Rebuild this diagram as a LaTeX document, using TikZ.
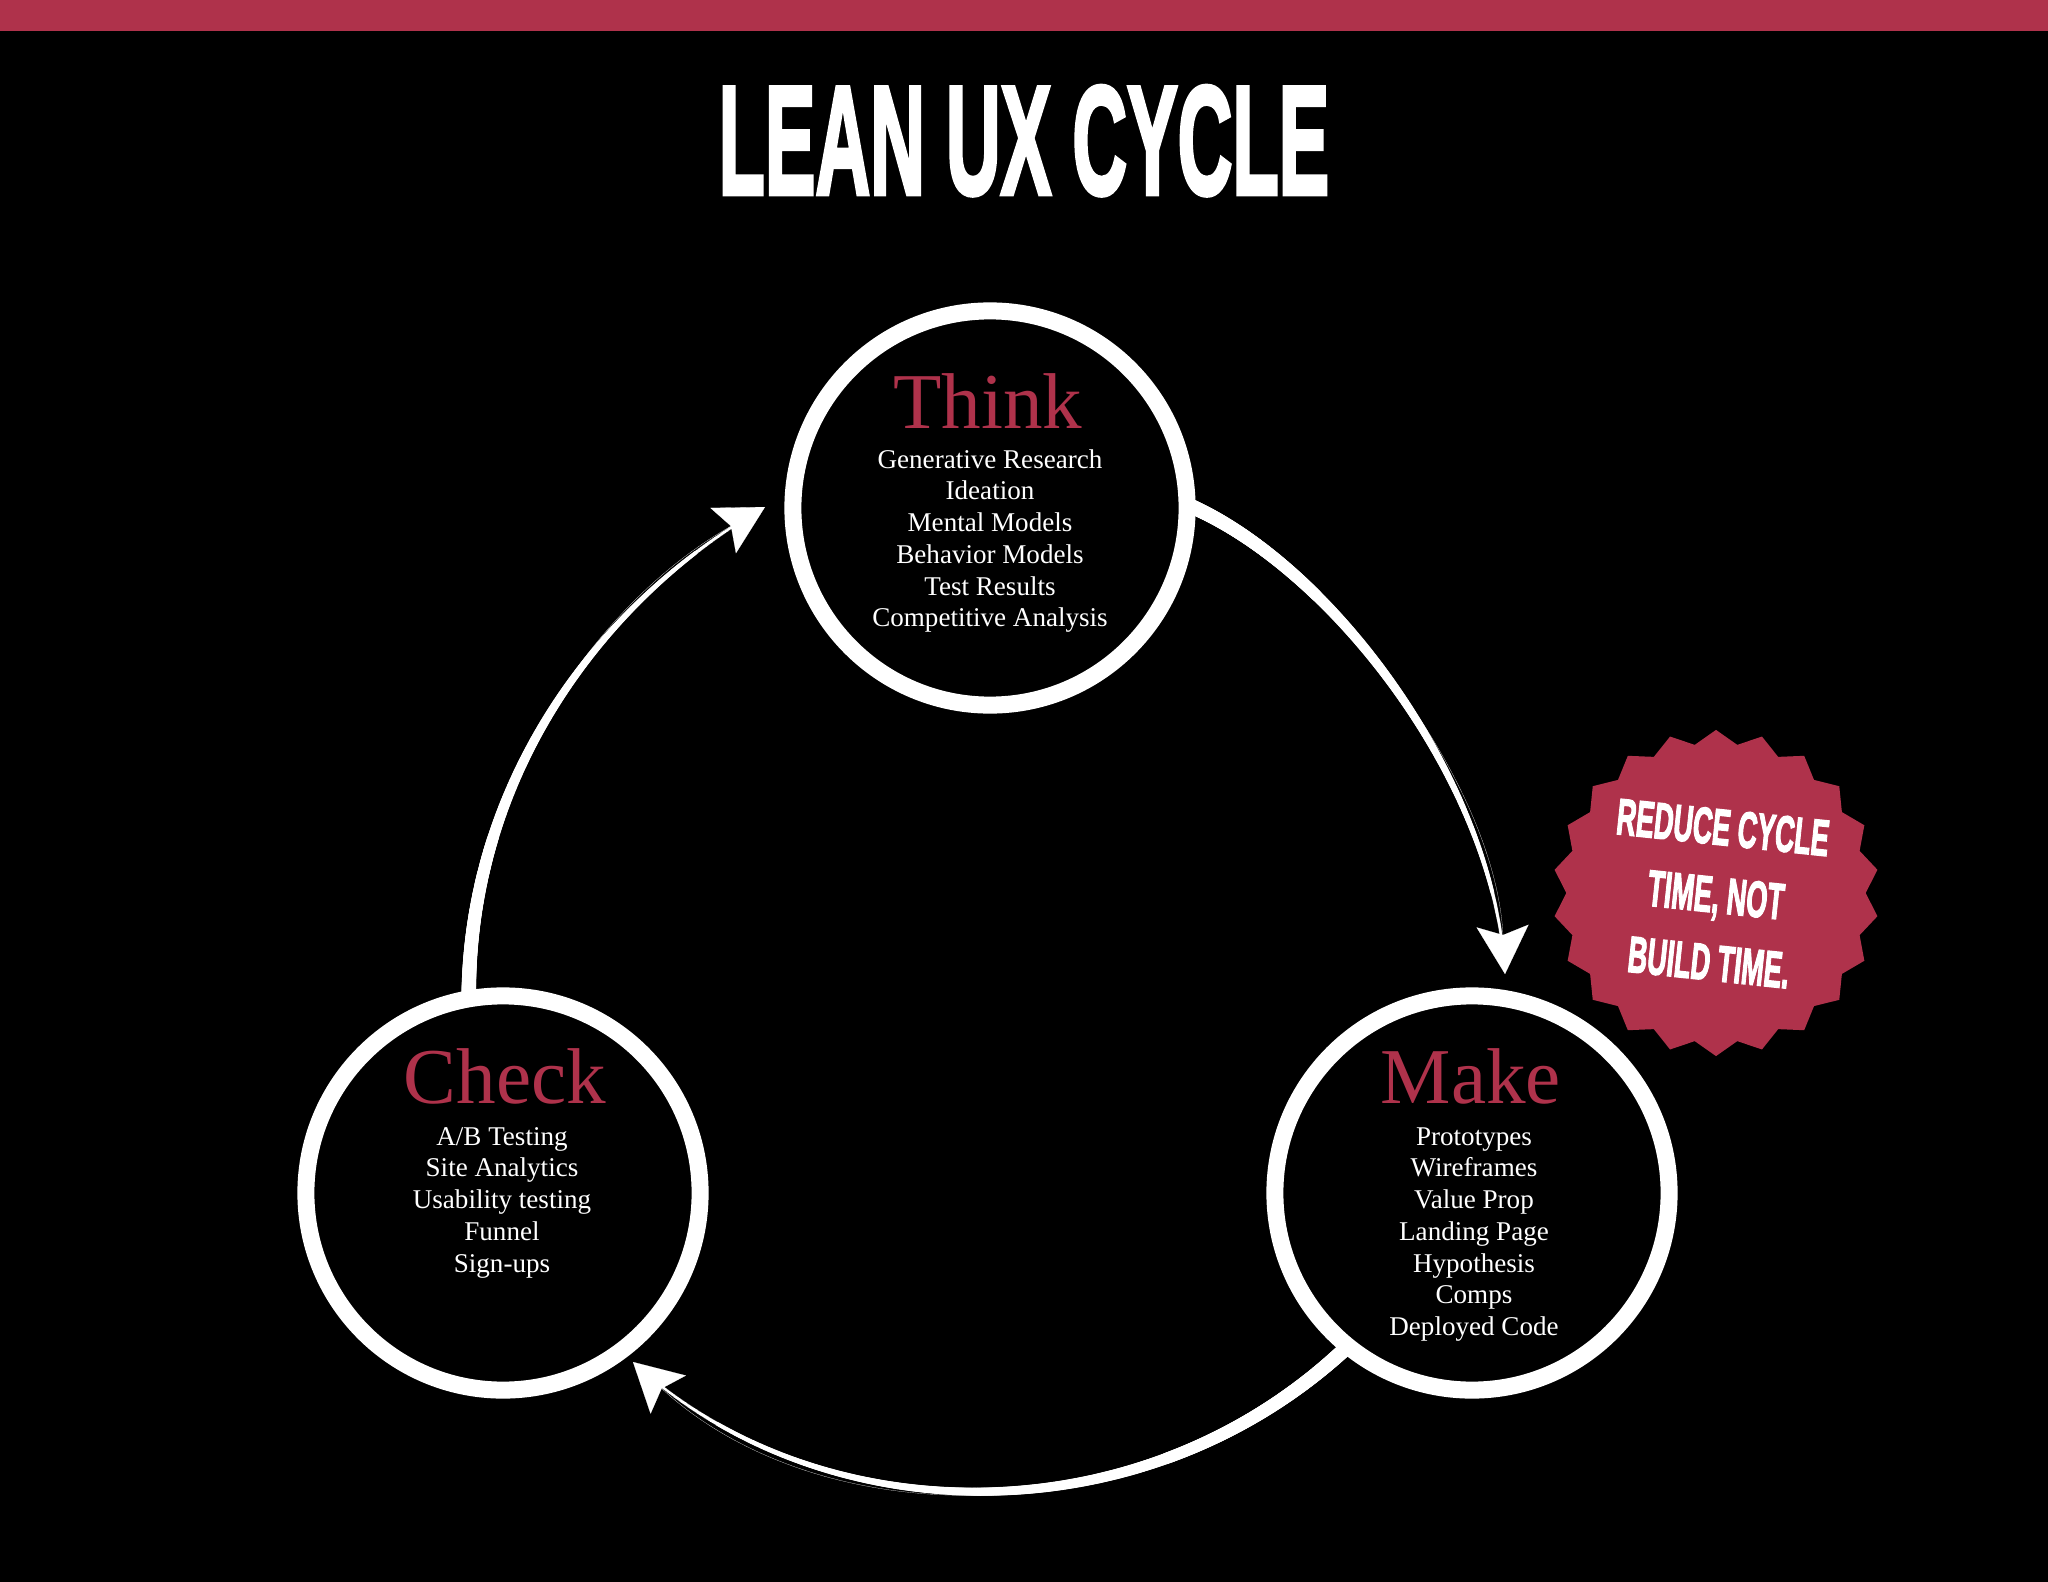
\documentclass[tikz,border=0pt]{standalone}
\usepackage{fontspec}
\setmainfont{Liberation Serif}
\newfontfamily\headfont{Liberation Sans}[BoldFeatures={FakeBold=3}]
\usetikzlibrary{shapes.geometric,arrows.meta,decorations.markings}
\definecolor{leanred}{RGB}{175,50,75}
\newcommand{\squash}[2]{\scalebox{#1}[1]{#2}}

\begin{document}
\begin{tikzpicture}[
  x=0.01cm, y=-0.01cm,
  stage/.style={circle, draw=white, fill=black, line width=1.7mm, minimum size=39.4mm, inner sep=0pt, outer sep=0pt},
  stagetitle/.style={anchor=base, text=leanred, inner sep=0pt, font=\fontsize{22.5}{27}\selectfont},
  item/.style={anchor=base, text=white, inner sep=0pt, font=\fontsize{7.7}{9}\selectfont},
  seal/.style={star, star points=22, star point ratio=1.09, fill=leanred, minimum size=32.6mm, inner sep=0pt},
  flow/.style={white, line width=0.05pt, -{Stealth[length=4.8mm, width=5.2mm, inset=0.9mm]},
    postaction={decorate},
    decoration={markings, mark=between positions 0 and -10pt step 0.3pt with {
      \pgfmathsetmacro\dotr{2.1-1.8*\pgfkeysvalueof{/pgf/decoration/mark info/distance from start}/\pgfdecoratedpathlength}
      \fill[white] (0,0) circle[radius=\dotr pt];}}},
]

% background and top bar
\path[use as bounding box, fill=black] (0,0) rectangle (2048,1582);
\fill[leanred] (0,0) rectangle (2048,31);

% title
\node[anchor=base, text=white, inner sep=0pt, font=\headfont\bfseries\fontsize{44}{50}\selectfont] (title) at (1024,194) {\squash{0.49}{LEAN UX CYCLE}};

% the three stages
\node[stage] (think) at (990,508) {};
\node[stage] (check) at (503,1193) {};
\node[stage] (make)  at (1472,1193) {};

\node[stagetitle] (thinktitle) at (988,428) {Think};
\node[stagetitle] (checktitle) at (505,1103) {Check};
\node[stagetitle] (maketitle)  at (1471,1103) {Make};

\foreach \txt [count=\i] in {Generative Research, Ideation, Mental Models, Behavior Models, Test Results, Competitive Analysis}
  \node[item] (think-\i) at (990,{468+31.75*(\i-1)}) {\txt};
\foreach \txt [count=\i] in {A/B Testing, Site Analytics, Usability testing, Funnel, Sign-ups}
  \node[item] (check-\i) at (502,{1145+31.75*(\i-1)}) {\txt};
\foreach \txt [count=\i] in {Prototypes, Wireframes, Value Prop, Landing Page, Hypothesis, Comps, Deployed Code}
  \node[item] (make-\i) at (1474,{1145+31.75*(\i-1)}) {\txt};

% arrow tips stop short of the next stage
\coordinate (makein)  at (1505,974);
\coordinate (checkin) at (633,1362);
\coordinate (thinkin) at (765,507);

% cycle arrows
\draw[flow] (think.1) .. controls (1330,565) and (1495,780) .. (makein);
\draw[flow] (make.231) .. controls (1143,1540) and (820,1535) .. (checkin);
\draw[flow] (check.100) .. controls (468,780) and (600,600) .. (thinkin);

% badge
\node[seal] (seal) at (1716,893) {};
\node[text=white, align=center, rotate=-6, inner sep=0pt, font=\headfont\bfseries\fontsize{14.5}{19.3}\selectfont] (sealtext) at (1716,895)
  {\squash{0.53}{REDUCE CYCLE}\\\squash{0.53}{TIME, NOT}\\\squash{0.53}{BUILD TIME.}};

\end{tikzpicture}
\end{document}
